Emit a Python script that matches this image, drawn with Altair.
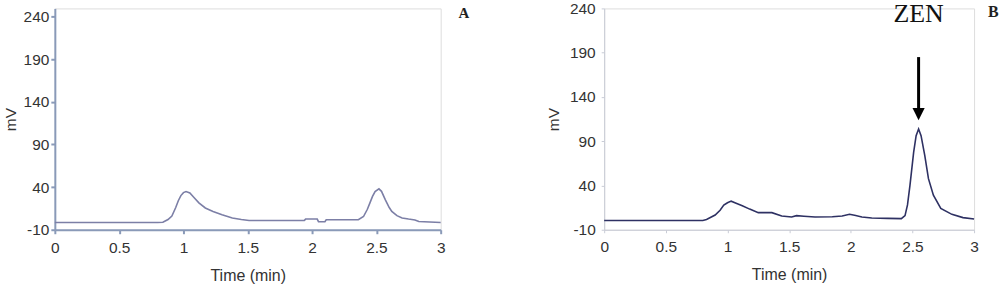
import altair as alt
import pandas as pd

# ---- Panel A (blank / standard) ----
a_time = [0, 0.80, 0.84, 0.88, 0.91, 0.94, 0.96, 0.98, 1.00, 1.02, 1.05, 1.08, 1.12, 1.17, 1.23,
          1.30, 1.38, 1.45, 1.51, 1.60, 1.94, 1.95, 2.04, 2.05, 2.10, 2.11, 2.36, 2.40, 2.43, 2.45,
          2.47, 2.49, 2.52, 2.54, 2.57, 2.60, 2.62, 2.66, 2.70, 2.75, 2.80, 2.83, 3.00]
a_mv = [-1.5, -1.5, -1.2, 2, 6, 16, 24, 30, 33.5, 34.7, 33, 28, 21.5, 15.5, 11.4,
        7.5, 3.7, 2, 0.9, 0.8, 1, 2.5, 2.5, -0.6, -0.6, 1.7, 1.7, 5.5, 14, 21.5,
        29, 34.7, 37.9, 35, 25, 16, 11.4, 6.5, 3.7, 2.5, 1.5, -0.3, -1.5]

# ---- Panel B (sample with ZEN) ----
b_time = [0, 0.80, 0.83, 0.90, 0.94, 0.97, 1.00, 1.03, 1.07, 1.12, 1.18, 1.25, 1.36, 1.44, 1.52,
          1.56, 1.62, 1.71, 1.85, 1.93, 1.99, 2.04, 2.09, 2.17, 2.30, 2.41, 2.44, 2.46, 2.48, 2.51,
          2.53, 2.55, 2.57, 2.60, 2.63, 2.67, 2.73, 2.82, 2.91, 3.00]
b_mv = [0.5, 0.5, 1.5, 6.6, 12, 17.8, 20.5, 22.3, 20, 17.1, 13.3, 9.3, 9.3, 5.5, 4.4,
        5.9, 5.2, 4.4, 4.6, 5.5, 7.4, 6, 4.4, 3.2, 2.8, 2.5, 6, 18, 40.2, 77.7,
        96.3, 103.8, 96.3, 73.9, 47.7, 29, 14.1, 7.4, 3.7, 2.1]

x_ticks = [0, 0.5, 1, 1.5, 2, 2.5, 3]
y_ticks = [-10, 40, 90, 140, 190, 240]

# annotations (data coordinates)
panel_labels = ["A", "B"]
a_label_pos = (3.18, 244)
b_label_pos = (3.155, 235.5)
zen_text = "ZEN"
zen_pos = (2.55, 233.2)
arrow_x = 2.55
arrow_top = 185
arrow_base = 126
arrow_head = 120.6

FONT = "Liberation Sans"
SERIF = "Liberation Serif"
W_A, W_B, H = 387, 371, 222


def axes(color, width, tick, lab_pad, title_pad):
    xa = alt.Axis(values=x_ticks, format="~g", grid=False, domainColor=color, domainWidth=width,
                  tickColor=color, tickWidth=width, tickSize=tick, labelPadding=7,
                  labelFont=FONT, labelFontSize=15.5, labelColor="#333333", title="Time (min)",
                  titleFont=FONT, titleFontSize=16, titleFontWeight="normal", titleColor="#333333",
                  titlePadding=11, labelFlush=False)
    ya = alt.Axis(values=y_ticks, grid=False, domainColor=color, domainWidth=width,
                  labelExpr="'' + datum.value",
                  tickColor=color, tickWidth=width, tickSize=tick, labelPadding=lab_pad,
                  labelFont=FONT, labelFontSize=15.5, labelColor="#333333", title="mV",
                  titleFont=FONT, titleFontSize=15.5, titleFontWeight="normal", titleColor="#333333",
                  titlePadding=title_pad, labelFlush=False)
    return xa, ya


# Panel A
dfa = pd.DataFrame({"t": a_time, "v": a_mv})
xa, ya = axes("#8a9ab8", 2, 4, 2, 5)
xs_a = alt.Scale(domain=[0, 3], nice=False, zero=False)
ys_a = alt.Scale(domain=[-10, 249.3], nice=False, zero=False)
line_a = alt.Chart(dfa).mark_line(color="#7c7fa6", strokeWidth=1.6).encode(
    x=alt.X("t:Q", scale=xs_a, axis=xa),
    y=alt.Y("v:Q", scale=ys_a, axis=ya),
)
lab_a = alt.Chart(pd.DataFrame({"t": [a_label_pos[0]], "v": [a_label_pos[1]], "s": [panel_labels[0]]})).mark_text(
    font=SERIF, fontSize=15, fontWeight="bold", color="#222222").encode(
    x=alt.X("t:Q", scale=xs_a), y=alt.Y("v:Q", scale=ys_a), text="s:N")
chart_a = alt.layer(line_a, lab_a).properties(width=W_A, height=H)

# Panel B
dfb = pd.DataFrame({"t": b_time, "v": b_mv})
xb, yb = axes("#c9ccd6", 1, 3, 6, 8)
xs_b = alt.Scale(domain=[0, 3], nice=False, zero=False)
ys_b = alt.Scale(domain=[-10, 240], nice=False, zero=False)
line_b = alt.Chart(dfb).mark_line(color="#2e3163", strokeWidth=1.6).encode(
    x=alt.X("t:Q", scale=xs_b, axis=xb),
    y=alt.Y("v:Q", scale=ys_b, axis=yb),
)
lab_b = alt.Chart(pd.DataFrame({"t": [b_label_pos[0]], "v": [b_label_pos[1]], "s": [panel_labels[1]]})).mark_text(
    font=SERIF, fontSize=16, fontWeight="bold", color="#222222").encode(
    x=alt.X("t:Q", scale=xs_b), y=alt.Y("v:Q", scale=ys_b), text="s:N")
zen = alt.Chart(pd.DataFrame({"t": [zen_pos[0]], "v": [zen_pos[1]], "s": [zen_text]})).mark_text(
    font=SERIF, fontSize=26, color="#111111").encode(
    x=alt.X("t:Q", scale=xs_b), y=alt.Y("v:Q", scale=ys_b), text="s:N")
shaft = alt.Chart(pd.DataFrame({"t": [arrow_x], "v": [arrow_top], "v2": [arrow_base]})).mark_rule(
    color="black", strokeWidth=3).encode(
    x=alt.X("t:Q", scale=xs_b), y=alt.Y("v:Q", scale=ys_b), y2="v2:Q")
head = alt.Chart(pd.DataFrame({"t": [arrow_x], "v": [arrow_head]})).mark_point(
    shape="M-1,-1L1,-1L0,1Z", filled=True, color="black", size=150, opacity=1).encode(
    x=alt.X("t:Q", scale=xs_b), y=alt.Y("v:Q", scale=ys_b))
chart_b = alt.layer(line_b, lab_b, zen, shaft, head).properties(width=W_B, height=H)

chart = alt.hconcat(chart_a, chart_b, spacing=164, bounds="flush").properties(
    padding={"left": 2, "top": 0, "right": 0, "bottom": 0}
).configure_view(stroke=None).configure(background="white")

chart.save("out.html", embed_options={"renderer": "svg", "actions": False})
